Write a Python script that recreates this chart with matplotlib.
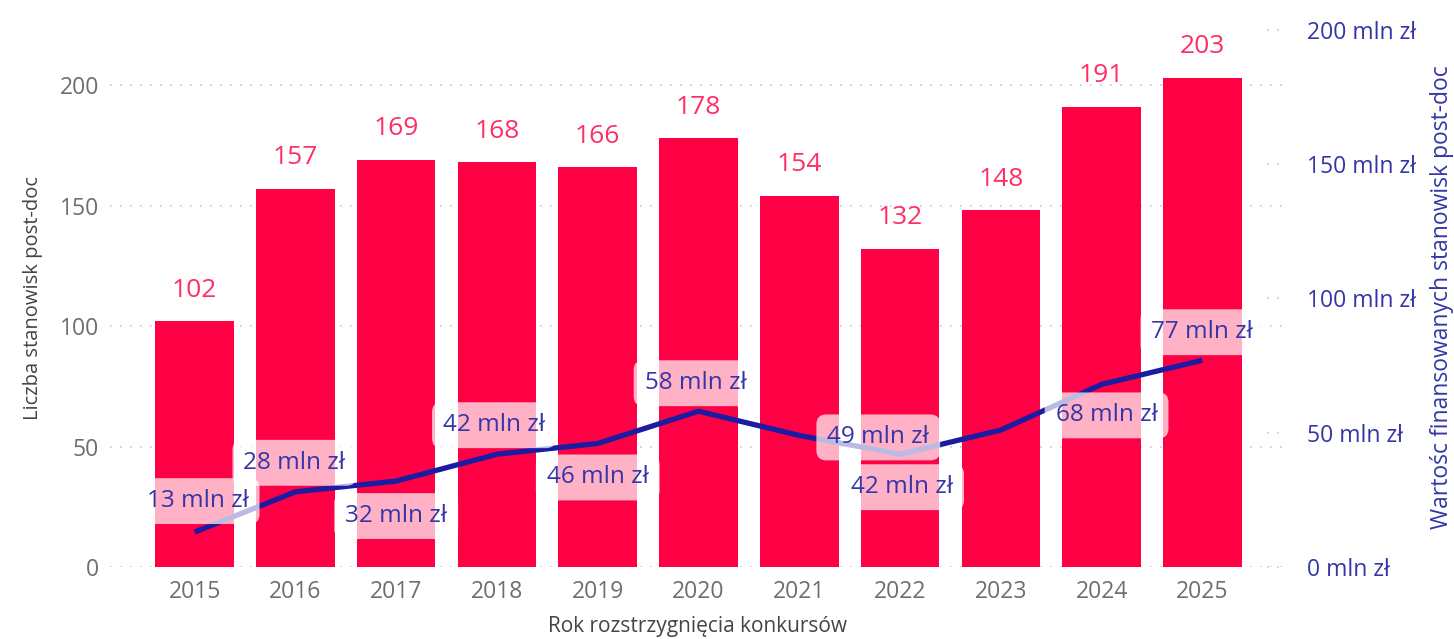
import matplotlib.pyplot as plt
import numpy as np

# Dane
years = ['2015', '2016', '2017', '2018', '2019', '2020', '2021', '2022', '2023', '2024', '2025']
positions = [102, 157, 169, 168, 166, 178, 154, 132, 148, 191, 203]
funding_mln = [13, 28, 32, 42, 46, 58, 49, 42, 51, 68, 77]
funding_labels = ['13 mln zł', '28 mln zł', '32 mln zł', '42 mln zł', '46 mln zł', '58 mln zł',
                  '49 mln zł', '42 mln zł', None, '68 mln zł', '77 mln zł']
left_ticks = [0, 50, 100, 150, 200]
right_ticks = [0, 50, 100, 150, 200]

# Kolory
bar_color = '#ff0044'
bar_label_color = '#ff2f66'
line_color = '#1c1ca3'
line_label_color = '#3535a8'
tick_gray = '#6e6e6e'

# przesunięcia etykiet linii (px)
label_offsets = [(3, 31), (-1, 29), (0, -35), (-3, 29), (0, -34), (-3, 28),
                 (79, -2), (2, -33), (0, 0), (5, -31), (0, 28)]

plt.rcParams['font.family'] = ['Open Sans', 'DejaVu Sans']

fig = plt.figure(figsize=(14.54, 6.39), dpi=100)
ax = fig.add_axes([110 / 1454, 1 - 567 / 639, 1175 / 1454, 539 / 639])
x = np.arange(len(years))

ax.bar(x, positions, width=0.78, color=bar_color, zorder=2)
for xi, v in zip(x, positions):
    ax.annotate(str(v), (xi, v), xytext=(0, 31), textcoords='offset pixels',
                ha='center', va='center', fontsize=19, color=bar_label_color)

ax.set_xlim(-0.84, len(years) - 1 + 0.82)
ax.set_ylim(0, 223.7)
ax.set_yticks(left_ticks)
ax.set_xticks(x)
ax.set_xticklabels(years)
ax.tick_params(axis='x', length=0, pad=9, labelsize=16.5, labelcolor=tick_gray)
ax.tick_params(axis='y', length=0, pad=8, labelsize=16.5, labelcolor=tick_gray)
ax.grid(axis='y', color='#c8c8c8', linestyle=(0, (1, 5)), linewidth=1.2, zorder=0)
ax.set_axisbelow(True)
for s in ax.spines.values():
    s.set_visible(False)
ax.set_xlabel('Rok rozstrzygnięcia konkursów', fontsize=15, color='#444444', labelpad=9)
ax.set_ylabel('Liczba stanowisk post-doc', fontsize=14.5, color='#444444', labelpad=12)

ax2 = ax.twinx()
ax2.set_ylim(0, 200.7)
ax2.set_yticks(right_ticks)
ax2.set_yticklabels([f'{t} mln zł' for t in right_ticks])
ax2.tick_params(axis='y', length=0, pad=16, labelsize=16.5, labelcolor='#3535a8')
for s in ax2.spines.values():
    s.set_visible(False)
for t in right_ticks:
    ax2.plot([0.985, 1.0], [t, t], transform=ax2.get_yaxis_transform(), color='#c8c8c8',
             linestyle=(0, (1, 5)), linewidth=1.2, clip_on=False)
ax2.set_ylabel('Wartośc finansowanych stanowisk post-doc', fontsize=16.5, color='#3535a8', labelpad=10)

ax2.plot(x, funding_mln, color=line_color, linewidth=3.8, solid_capstyle='butt', zorder=3)
for xi, v, lab, off in zip(x, funding_mln, funding_labels, label_offsets):
    if lab is None:
        continue
    ax2.annotate(lab, (xi, v), xytext=off, textcoords='offset pixels',
                 ha='center', va='center', fontsize=17.5, color=line_label_color, zorder=4,
                 bbox=dict(boxstyle='round,pad=0.45,rounding_size=0.4', facecolor='white',
                           edgecolor='none', alpha=0.7))

fig.savefig('out.png', dpi=100)
